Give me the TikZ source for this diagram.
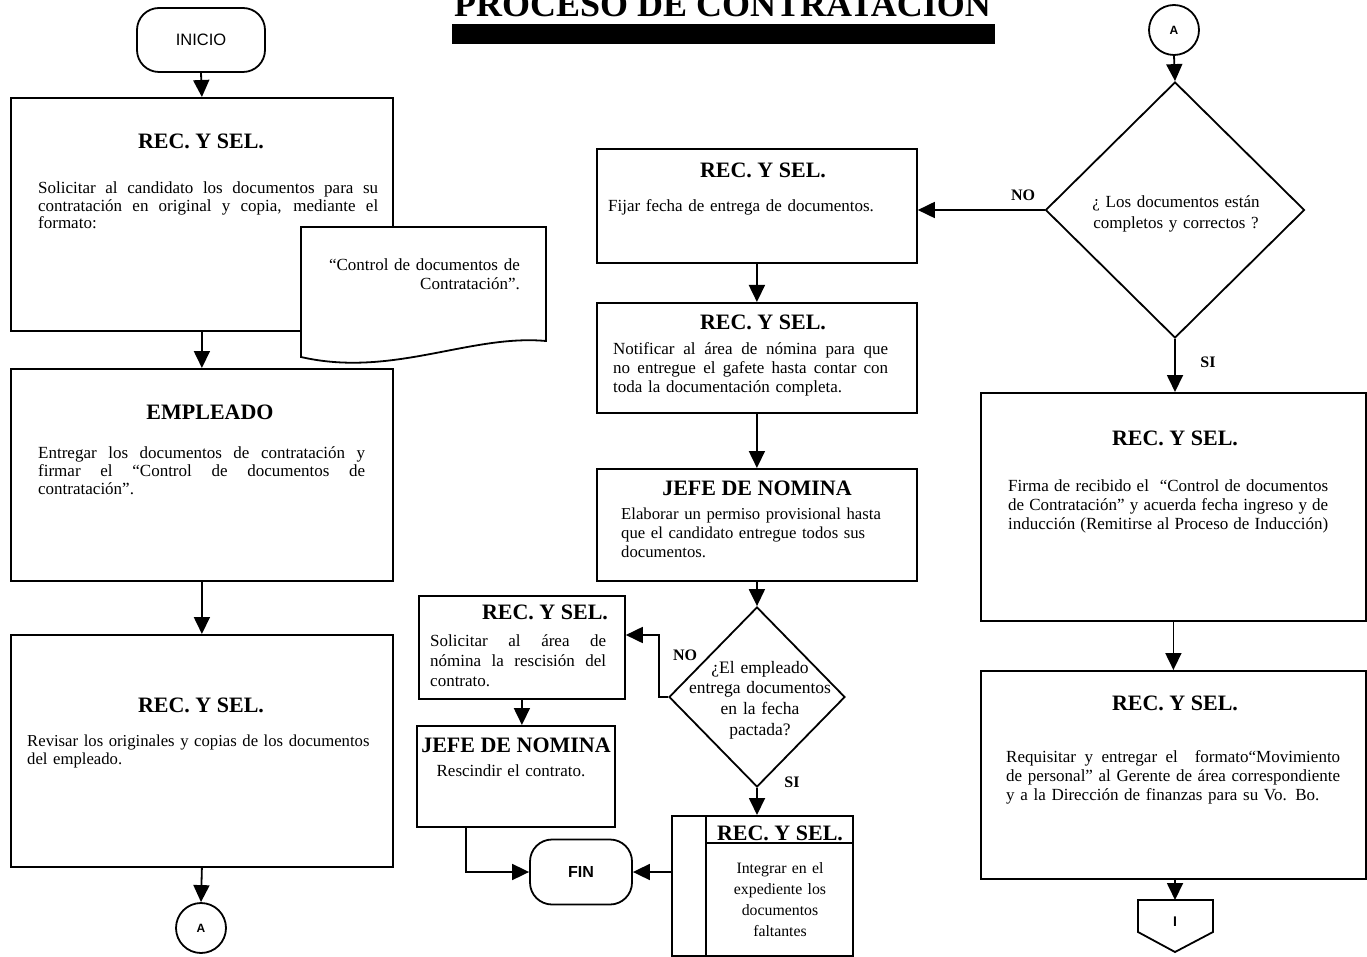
\documentclass[tikz,border=0pt]{standalone}
\usepackage{fontspec}
\setmainfont{Liberation Serif}
\newfontfamily\sansfam{Liberation Sans}
\usetikzlibrary{arrows.meta,shapes.geometric,calc}

\newcommand\bodyfnt[2]{\fontsize{#1}{#2}\selectfont}
\newcommand\headfnt{\fontsize{22}{24}\selectfont\bfseries}
\newcommand\lblfnt{\fontsize{16}{18}\selectfont\bfseries}
\newcommand\titlefnt{\fontsize{36}{40}\selectfont\bfseries}
% a line stretched to a given width
\newcommand\jline[2]{\makebox[#1pt][s]{\spaceskip=.25em plus 10em\relax #2}}

\tikzset{
  ln/.style={line width=1.8pt},
  flow/.style={ln, -{Triangle[length=17pt,width=16pt]}},
  box/.style={draw, ln, fill=white, anchor=north west, inner sep=0pt},
  head/.style={font=\headfnt, inner sep=0pt},
  txt/.style={anchor=base west, inner sep=0pt, align=left},
  ctxt/.style={anchor=base, inner sep=0pt, align=center},
  lbl/.style={font=\lblfnt, inner sep=0pt},
  term/.style={draw, ln, rounded corners=22pt, inner sep=0pt, font=\sansfam\fontsize{16.5}{18}\selectfont},
  conn/.style={draw, ln, circle, minimum size=50pt, inner sep=0pt, font=\sansfam\bfseries\fontsize{12}{14}\selectfont},
  dec/.style={draw, ln, diamond, inner sep=0pt, fill=white},
}

\begin{document}
\begin{tikzpicture}[x=1pt,y=-1pt]
\useasboundingbox (0,0) rectangle (1367,957);

% ---------- title ----------
\begin{scope}
  \clip (0,0) rectangle (1367,957);
  \node[font=\titlefnt, anchor=base west, inner sep=0pt] (title) at (454,17) {PROCESO DE CONTRATACIÓN};
  \fill (452,24) rectangle (995,44);
\end{scope}

% ---------- left column ----------
\node[term, minimum width=128pt, minimum height=64pt] (inicio) at (201,40) {INICIO};

\node[box, minimum width=382pt, minimum height=233pt] (b1) at (10,97) {};
\node[head] (b1h) at (201,141) {REC. Y SEL.};
\node[txt, text width=340pt, font={\bodyfnt{17}{17.5}}] (b1t) at (38,194)
  {\jline{340}{Solicitar al candidato los documentos para su}\\
   \jline{340}{contratación en original y copia, mediante el}\\
   formato:};

% document shape
\draw[ln, fill=white] (301,227) -- (546,227) -- (546,341)
  .. controls (470,334) and (392,378) .. (301,357) -- cycle;
\node[anchor=base east, inner sep=0pt, align=right, text width=200pt, font={\bodyfnt{17}{19}}] (doct) at (520,271)
  {“Control de documentos de\\ Contratación”.};

\node[box, minimum width=382pt, minimum height=212pt] (b2) at (10,368) {};
\node[head] (b2h) at (210,412) {EMPLEADO};
\node[txt, text width=327pt, font={\bodyfnt{17}{18}}] (b2t) at (38,458)
  {\jline{327}{Entregar los documentos de contratación y}\\
   \jline{327}{firmar el “Control de documentos de}\\
   contratación”.};

\node[box, minimum width=382pt, minimum height=232pt] (b3) at (10,634) {};
\node[head] (b3h) at (201,705) {REC. Y SEL.};
\node[txt, text width=350pt, font={\bodyfnt{16.7}{18}}] (b3t) at (27,746)
  {Revisar los originales y copias de los documentos\\ del empleado.};

\node[conn] (ca1) at (201,928) {A};

\draw[flow] (inicio.south) -- (b1.north);
\draw[flow] (b1.south) -- (b2.north);
\draw[flow] (b2.south) -- (b3.north);
\draw[flow] (b3.south) -- (ca1.north);

% ---------- middle column ----------
\node[box, minimum width=320pt, minimum height=114pt] (m1) at (596,148) {};
\node[head] (m1h) at (763,170) {REC. Y SEL.};
\node[txt, text width=300pt, font={\bodyfnt{17}{19}}] (m1t) at (608,212)
  {Fijar fecha de entrega de documentos.};

\node[box, minimum width=320pt, minimum height=110pt] (m2) at (596,302) {};
\node[head] (m2h) at (763,322) {REC. Y SEL.};
\node[txt, text width=275pt, font={\bodyfnt{17}{19}}] (m2t) at (613,354)
  {\jline{275}{Notificar al área de nómina para que}\\
   \jline{275}{no entregue el gafete hasta contar con}\\
   toda la documentación completa.};

\node[box, minimum width=320pt, minimum height=112pt] (m3) at (596,468) {};
\node[head] (m3h) at (757,488) {JEFE DE NOMINA};
\node[txt, text width=290pt, font={\bodyfnt{16.7}{19}}] (m3t) at (621,519)
  {Elaborar un permiso provisional hasta\\
   que el candidato entregue todos sus\\
   documentos.};

\node[dec, minimum width=176pt, minimum height=180pt] (dm) at (757,697) {};
\node[ctxt, text width=170pt, font={\bodyfnt{17.5}{20.8}}] (dmt) at (760,673)
  {¿El empleado\\ entrega documentos\\ en la fecha\\ pactada?};
\node[lbl] (dmno) at (685,655) {NO};
\node[lbl] (dmsi) at (792,782) {SI};

\node[box, minimum width=206pt, minimum height=103pt] (bl) at (418,595) {};
\node[head] (blh) at (545,612) {REC. Y SEL.};
\node[txt, text width=176pt, font={\bodyfnt{17}{20}}] (blt) at (430,646)
  {\jline{176}{Solicitar al área de}\\
   \jline{176}{nómina la rescisión del}\\
   contrato.};

\node[box, minimum width=198pt, minimum height=101pt] (jn) at (416,725) {};
\node[head] (jnh) at (516,745) {JEFE DE NOMINA};
\node[ctxt, text width=190pt, font={\bodyfnt{17}{19}}] (jnt) at (511,776) {Rescindir el contrato.};

\node[term, minimum width=102pt, minimum height=65pt, font=\sansfam\bfseries\fontsize{16}{18}\selectfont] (fin) at (581,872) {FIN};

\node[box, minimum width=181pt, minimum height=140pt] (st) at (671,815) {};
\draw[ln] (706,815) -- (706,955);
\draw[ln] (706,843) -- (852,843);
\node[head, anchor=base] (sth) at (780,840) {REC. Y SEL.};
\node[ctxt, text width=140pt, font={\bodyfnt{15.8}{21}}] (stt) at (780,873)
  {Integrar en el\\ expediente los\\ documentos\\ faltantes};

\coordinate (nobend) at (659,635);
\draw[flow] (m1.south) -- (m2.north);
\draw[flow] (m2.south) -- (m3.north);
\draw[flow] (m3.south) -- (dm.north);
\draw[flow] (dm.west) -| (nobend) -- (nobend -| bl.east);
\draw[flow] (dm.south) -- (st.north -| dm.south);
\draw[flow] (bl.south) -- (bl.south |- jn.north);
\draw[flow] ($(jn.south west)!0.25!(jn.south east)$) |- (fin.west);
\draw[flow] (fin.east -| st.west) -- (fin.east);

% ---------- right column ----------
\node[conn] (ca2) at (1174,30) {A};
\node[dec, minimum width=259pt, minimum height=256pt] (dr) at (1175,210) {};
\node[ctxt, text width=220pt, font={\bodyfnt{17}{21}}] (drt) at (1176,208)
  {¿ Los documentos están\\ completos y correctos ?};
\node[lbl] (drno) at (1023,195) {NO};
\node[lbl] (drsi) at (1208,362) {SI};

\node[box, minimum width=385pt, minimum height=228pt] (r1) at (980,392) {};
\node[head] (r1h) at (1175,438) {REC. Y SEL.};
\node[txt, text width=320pt, font={\bodyfnt{17}{19}}] (r1t) at (1008,491)
  {\jline{320}{Firma de recibido el \ “Control de documentos}\\
   \jline{320}{de Contratación” y acuerda fecha ingreso y de}\\
   \jline{320}{inducción (Remitirse al Proceso de Inducción)}};

\node[box, minimum width=385pt, minimum height=208pt] (r2) at (980,670) {};
\node[head] (r2h) at (1175,703) {REC. Y SEL.};
\node[txt, text width=334pt, font={\bodyfnt{17}{19}}] (r2t) at (1006,762)
  {\jline{334}{Requisitar y entregar el \ formato“Movimiento}\\
   \jline{334}{de personal” al Gerente de área correspondiente}\\
   y a la Dirección de finanzas para su Vo. Bo.};

% off-page connector
\coordinate (pg) at (1175,900);
\draw[ln, fill=white] (1138,900) -- (1213,900) -- (1213,932) -- (1175,952) -- (1138,932) -- cycle;
\node[font=\sansfam\bfseries\fontsize{14}{16}\selectfont, inner sep=0pt] (pgl) at (1175,922) {I};

\draw[flow] (ca2.south) -- (dr.north);
\draw[flow] (dr.west) -- (dr.west -| m1.east);
\draw[flow] (dr.south) -- (r1.north -| dr.south);
\draw[flow] (r1.south) -- (r2.north);
\draw[flow] (r2.south -| pg) -- (pg);
\end{tikzpicture}
\end{document}
